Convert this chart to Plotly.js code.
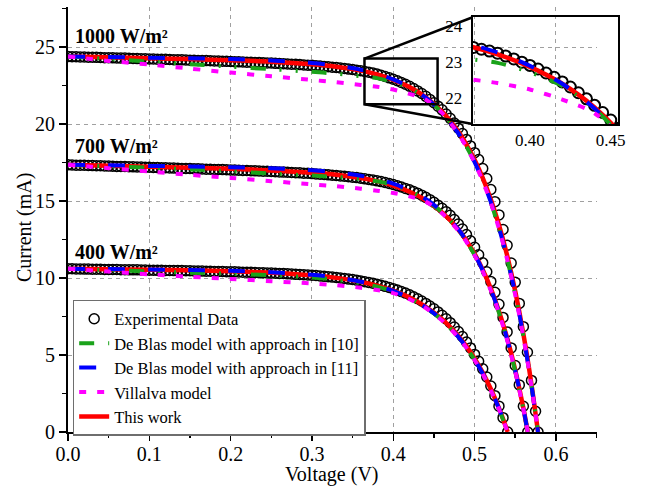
<!DOCTYPE html>
<html><head><meta charset="utf-8">
<script src="https://cdn.plot.ly/plotly-3.0.1.min.js"></script>
<style>html,body{margin:0;padding:0;background:#fff}#chart{width:652px;height:486px}</style>
</head><body><div id="chart"></div>
<script>
// Voltage grid of the measured points (V)
const vGrid = [0,0.005,0.01,0.015,0.02,0.025,0.03,0.035,0.04,0.045,
0.05,0.055,0.06,0.065,0.07,0.075,0.08,0.085,0.09,0.095,
0.1,0.105,0.11,0.115,0.12,0.125,0.13,0.135,0.14,0.145,
0.15,0.155,0.16,0.165,0.17,0.175,0.18,0.185,0.19,0.195,
0.2,0.205,0.21,0.215,0.22,0.225,0.23,0.235,0.24,0.245,
0.25,0.255,0.26,0.265,0.27,0.275,0.28,0.285,0.29,0.295,
0.3,0.305,0.31,0.315,0.32,0.325,0.33,0.335,0.34,0.345,
0.35,0.355,0.36,0.365,0.37,0.375,0.38,0.385,0.39,0.395,
0.4,0.405,0.41,0.415,0.42,0.425,0.43,0.435,0.44,0.445,
0.45,0.455,0.46,0.465,0.47,0.475,0.48,0.485,0.49,0.495,
0.5,0.505,0.51,0.515,0.52,0.525,0.53,0.535,0.54,0.545,
0.55,0.555,0.56,0.565,0.57,0.575];
// Voltage points of the model curves (V)
const vLine = [0,0.05,0.1,0.15,0.2,0.25,0.3,0.33,0.36,0.38,0.40,0.42,0.44,0.46,0.48,0.49,0.50,0.51,0.52,0.53,0.54,0.55,0.56,0.57];
// Open-circuit voltages (last point of each curve)
const voc1000 = 0.578, voc700 = 0.5654, voc400 = 0.5407;

// Experimental data (mA)
const exp1000 = [
24.38,24.37,24.37,24.36,24.35,24.34,24.34,24.33,24.32,24.31,
24.31,24.30,24.29,24.28,24.28,24.27,24.26,24.25,24.24,24.24,
24.23,24.22,24.21,24.21,24.20,24.19,24.18,24.17,24.17,24.16,
24.15,24.14,24.13,24.12,24.12,24.11,24.10,24.09,24.08,24.07,
24.06,24.05,24.04,24.03,24.02,24.01,24.00,23.99,23.98,23.97,
23.96,23.94,23.93,23.92,23.90,23.89,23.88,23.86,23.84,23.82,
23.81,23.79,23.77,23.74,23.72,23.69,23.67,23.64,23.61,23.57,
23.54,23.50,23.46,23.41,23.36,23.31,23.25,23.17,23.09,23.00,
22.91,22.81,22.70,22.58,22.45,22.31,22.15,21.98,21.80,21.60,
21.39,21.16,20.92,20.65,20.37,20.06,19.73,19.38,19.00,18.58,
18.14,17.70,17.11,16.46,15.75,14.96,14.10,13.15,12.12,10.97,
9.72,8.35,6.84,5.18,3.35,1.35,0];
const exp700 = [
17.35,17.34,17.33,17.33,17.32,17.31,17.30,17.29,17.29,17.28,
17.27,17.26,17.25,17.25,17.24,17.23,17.22,17.21,17.21,17.20,
17.19,17.18,17.17,17.16,17.16,17.15,17.14,17.13,17.12,17.11,
17.11,17.10,17.09,17.08,17.07,17.06,17.05,17.05,17.04,17.03,
17.02,17.01,17.00,16.99,16.98,16.97,16.96,16.95,16.94,16.93,
16.92,16.90,16.89,16.88,16.87,16.85,16.84,16.83,16.81,16.80,
16.78,16.76,16.74,16.73,16.70,16.68,16.66,16.63,16.61,16.58,
16.55,16.52,16.48,16.44,16.40,16.36,16.31,16.26,16.20,16.14,
16.07,15.99,15.91,15.82,15.73,15.62,15.51,15.38,15.24,15.09,
14.92,14.73,14.53,14.31,14.07,13.80,13.50,13.18,12.82,12.42,
11.99,11.51,10.99,10.41,9.77,9.07,8.29,7.44,6.50,5.46,
4.32,3.06,1.67,0];
const exp400 = [
10.60,10.60,10.59,10.59,10.58,10.58,10.57,10.57,10.57,10.56,
10.56,10.55,10.55,10.54,10.54,10.53,10.53,10.53,10.52,10.52,
10.51,10.51,10.50,10.50,10.49,10.49,10.48,10.48,10.48,10.47,
10.47,10.46,10.45,10.45,10.44,10.44,10.43,10.42,10.42,10.41,
10.40,10.40,10.39,10.38,10.38,10.37,10.36,10.35,10.34,10.33,
10.32,10.31,10.30,10.29,10.27,10.26,10.24,10.23,10.21,10.20,
10.18,10.16,10.13,10.11,10.09,10.06,10.03,10.00,9.97,9.93,
9.90,9.86,9.81,9.76,9.71,9.66,9.60,9.53,9.46,9.39,
9.31,9.22,9.12,9.02,8.91,8.78,8.65,8.51,8.35,8.18,
8.00,7.80,7.58,7.35,7.10,6.82,6.52,6.20,5.84,5.46,
5.04,4.59,4.10,3.57,2.99,2.36,1.68,0.93,0];

// This work (red)
const red1000 = [24.38,24.33,24.27,24.22,24.14,24.05,23.88,23.72,23.47,23.22,22.87,22.40,21.74,20.81,19.51,18.67,17.68,16.50,15.10,13.45,11.48,9.14,6.37,3.08,0];
const red700  = [17.35,17.29,17.23,17.16,17.09,16.99,16.84,16.71,16.49,16.29,16.00,15.60,15.05,14.26,13.15,12.42,11.57,10.54,9.32,7.85,6.11,4.03,1.54,0];
const red400  = [10.60,10.57,10.54,10.50,10.44,10.35,10.18,10.01,9.75,9.51,9.18,8.73,8.13,7.33,6.24,5.56,4.78,3.86,2.79,1.55,0.11,0];
// De Blas model with approach in [11] (blue)
const blue1000 = [24.38,24.35,24.31,24.27,24.22,24.13,23.97,23.80,23.53,23.27,22.90,22.40,21.71,20.74,19.40,18.55,17.53,16.33,14.93,13.26,11.30,8.98,6.24,3.01,0];
const blue700  = [17.35,17.32,17.28,17.25,17.20,17.13,17.00,16.86,16.64,16.43,16.13,15.71,15.13,14.31,13.16,12.42,11.54,10.50,9.26,7.79,6.05,3.98,1.51,0];
const blue400  = [10.60,10.58,10.55,10.52,10.47,10.38,10.21,10.03,9.76,9.50,9.16,8.70,8.09,7.28,6.18,5.50,4.71,3.80,2.74,1.52,0.11,0];
// De Blas model with approach in [10] (green)
const green1000 = [24.38,24.22,24.05,23.89,23.72,23.56,23.39,23.27,23.10,22.98,22.72,22.34,21.70,20.74,19.40,18.54,17.52,16.31,14.90,13.22,11.25,8.93,6.20,2.98,0];
const green700  = [17.35,17.25,17.16,17.05,16.93,16.78,16.65,16.56,16.42,16.28,16.05,15.66,15.10,14.27,13.12,12.38,11.50,10.46,9.22,7.75,6.01,3.95,1.49,0];
const green400  = [10.60,10.51,10.43,10.35,10.27,10.18,10.03,9.88,9.66,9.44,9.13,8.68,8.08,7.27,6.17,5.48,4.69,3.78,2.72,1.50,0.10,0];
// Villalva model (magenta)
const mag1000 = [24.38,24.10,23.86,23.60,23.34,23.10,22.86,22.71,22.54,22.42,22.24,21.96,21.58,20.72,19.36,18.50,17.50,16.30,14.88,13.20,11.22,8.90,6.16,2.95,0];
const mag700  = [17.35,17.13,16.92,16.70,16.50,16.29,16.08,15.96,15.80,15.67,15.52,15.30,14.96,14.20,13.08,12.35,11.47,10.43,9.19,7.72,5.98,3.92,1.47,0];
const mag400  = [10.60,10.42,10.24,10.08,9.94,9.79,9.65,9.53,9.37,9.22,9.02,8.62,8.05,7.24,6.14,5.46,4.67,3.76,2.70,1.48,0.09,0];

const irrLabels = ['1000 W/m²','700 W/m²','400 W/m²'];
const irrLabelY = [25.7, 18.57, 11.67];
const insetX = [0.3646, 0.4545];
const insetY = [21.28, 24.25];

function seg(grid, arr, voc){ return {x: grid.slice(0, arr.length-1).concat([voc]), y: arr.slice()}; }
function join(parts){
  const x=[], y=[];
  parts.forEach((p,i)=>{ if(i){x.push(null);y.push(null);} x.push(...p.x); y.push(...p.y); });
  return {x,y};
}
const expAll = join([seg(vGrid,exp1000,voc1000), seg(vGrid,exp700,voc700), seg(vGrid,exp400,voc400)]);
const redAll = join([seg(vLine,red1000,voc1000), seg(vLine,red700,voc700), seg(vLine,red400,voc400)]);
const blueAll = join([seg(vLine,blue1000,voc1000), seg(vLine,blue700,voc700), seg(vLine,blue400,voc400)]);
const greenAll = join([seg(vLine,green1000,voc1000), seg(vLine,green700,voc700), seg(vLine,green400,voc400)]);
const magAll = join([seg(vLine,mag1000,voc1000), seg(vLine,mag700,voc700), seg(vLine,mag400,voc400)]);

const expIn = seg(vGrid,exp1000,voc1000);
const redIn = seg(vLine,red1000,voc1000);
const blueIn = seg(vLine,blue1000,voc1000);
const greenIn = seg(vLine,green1000,voc1000);
const magIn = seg(vLine,mag1000,voc1000);

const C = {exp:'#000000', red:'#ff0000', blue:'#0000ff', green:'#1aa31a', mag:'#ff00ff'};
const dashG = '15px,14px,2px,14px,2px,14px';
const dashB = '17px,23px';
const dashM = '7px,11px';

function mk(d, ax, opts){ return Object.assign({x:d.x, y:d.y, type:'scatter', xaxis:'x'+ax, yaxis:'y'+ax, hoverinfo:'skip'}, opts); }

const traces = [];
[['', expAll, redAll, greenAll, blueAll, magAll, true, 10, 1.5], ['2', expIn, redIn, greenIn, blueIn, magIn, false, 11, 2]].forEach(s=>{
  const [ax, e, r, g, b, m, leg, ms, mw] = s;
  traces.push(mk(e, ax, {mode:'markers', name:'Experimental Data', legendrank:1, showlegend:leg, legendgroup:'e',
    marker:{symbol:'circle-open', size:ms, color:C.exp, line:{width:mw, color:C.exp}}}));
  traces.push(mk(r, ax, {mode:'lines', name:'This work', legendrank:5, showlegend:leg, legendgroup:'r',
    line:{color:C.red, width:4.5, shape:'spline', smoothing:0.8}}));
  traces.push(mk(g, ax, {mode:'lines', name:'De Blas model with approach in [10]', legendrank:2, showlegend:leg, legendgroup:'g',
    line:{color:C.green, width:4, dash:dashG, shape:'spline', smoothing:0.8}}));
  traces.push(mk(b, ax, {mode:'lines', name:'De Blas model with approach in [11]', legendrank:3, showlegend:leg, legendgroup:'b',
    line:{color:C.blue, width:4, dash:dashB, shape:'spline', smoothing:0.8}}));
  traces.push(mk(m, ax, {mode:'lines', name:'Villalva model', legendrank:4, showlegend:leg, legendgroup:'m',
    line:{color:C.mag, width:4, dash:dashM, shape:'spline', smoothing:0.8}}));
});

const FONT = 'Liberation Serif, Times New Roman, serif';
const xr = [0, 0.65], yr = [0, 27.6];
const xDom = [0, 0.961], yDom = [0, 1];
const x2Dom = [0.7358, 1], y2Dom = [0.7247, 0.9758];
const px = v => xDom[0] + (v - xr[0])/(xr[1]-xr[0])*(xDom[1]-xDom[0]);
const py = v => yDom[0] + (v - yr[0])/(yr[1]-yr[0])*(yDom[1]-yDom[0]);

const axBase = {showline:true, linecolor:'black', linewidth:2, zeroline:false, ticks:'outside', ticklen:7, tickwidth:1.5, tickcolor:'black',
  showgrid:true, gridcolor:'#a0a0a0', gridwidth:1, griddash:'4px,4px', automargin:false, fixedrange:true, tickfont:{family:FONT, size:20}};

const layout = {
  width:652, height:486,
  margin:{l:68, r:34, t:7, b:54, pad:0},
  paper_bgcolor:'white', plot_bgcolor:'rgba(0,0,0,0)',
  font:{family:FONT, size:20, color:'black'},
  showlegend:true,
  xaxis: Object.assign({}, axBase, {domain:xDom, range:xr, tick0:0, dtick:0.1, tickformat:'.1f', anchor:'y', ticklabelstandoff:-4,
    minor:{dtick:0.05, ticks:'outside', ticklen:4, tickwidth:1.5, tickcolor:'black', showgrid:false}}),
  yaxis: Object.assign({}, axBase, {domain:yDom, range:yr, tick0:0, dtick:5, anchor:'x', ticklabelstandoff:0,
    minor:{dtick:2.5, ticks:'outside', ticklen:4, tickwidth:1.5, tickcolor:'black', showgrid:false}}),
  xaxis2: {domain:x2Dom, range:insetX, anchor:'y2', tickvals:[0.40,0.45], tickformat:'.2f', showgrid:false, zeroline:false,
    showline:true, mirror:true, linecolor:'black', linewidth:2, ticks:'', tickfont:{family:FONT, size:17}, fixedrange:true, automargin:false},
  yaxis2: {domain:y2Dom, range:insetY, anchor:'x2', tickvals:[22,23,24], showgrid:false, zeroline:false,
    showline:true, mirror:true, linecolor:'black', linewidth:2, ticks:'', tickfont:{family:FONT, size:17}, ticklabelstandoff:5, fixedrange:true, automargin:false},
  legend:{x:0.0085, y:0.3106, xanchor:'left', yanchor:'top', bgcolor:'white', bordercolor:'#6e6e6e', borderwidth:1.5,
    font:{family:FONT, size:16.5, color:'black'}, traceorder:'normal', itemwidth:30, tracegroupgap:0},
  shapes:[
    {type:'rect', xref:'x', yref:'y', x0:insetX[0], x1:insetX[1], y0:insetY[0], y1:insetY[1], line:{color:'black', width:2.5}},
    {type:'line', xref:'paper', yref:'paper', x0:px(insetX[0]), y0:py(insetY[1]), x1:x2Dom[0], y1:y2Dom[1], line:{color:'black', width:2.5}},
    {type:'line', xref:'paper', yref:'paper', x0:px(insetX[0]), y0:py(insetY[0]), x1:x2Dom[0], y1:y2Dom[0], line:{color:'black', width:2.5}}
  ],
  annotations: irrLabels.map((t,i)=>({text:'<b>'+t+'</b>', xref:'x', yref:'y', x:0.006, y:irrLabelY[i], xanchor:'left', yanchor:'middle',
    showarrow:false, font:{family:FONT, size:20, color:'black'}})).concat([
    {text:'Voltage (V)', xref:'paper', yref:'paper', x:0.48, y:-0.099, xanchor:'center', yanchor:'middle', showarrow:false,
      font:{family:FONT, size:20, color:'black'}},
    {text:'Current (mA)', xref:'paper', yref:'paper', x:-0.08, y:0.48, xanchor:'center', yanchor:'middle', textangle:-90, showarrow:false,
      font:{family:FONT, size:20, color:'black'}}
  ]),
  hovermode:false
};

Plotly.newPlot('chart', traces, layout, {staticPlot:true, displayModeBar:false});
</script>
</body></html>
